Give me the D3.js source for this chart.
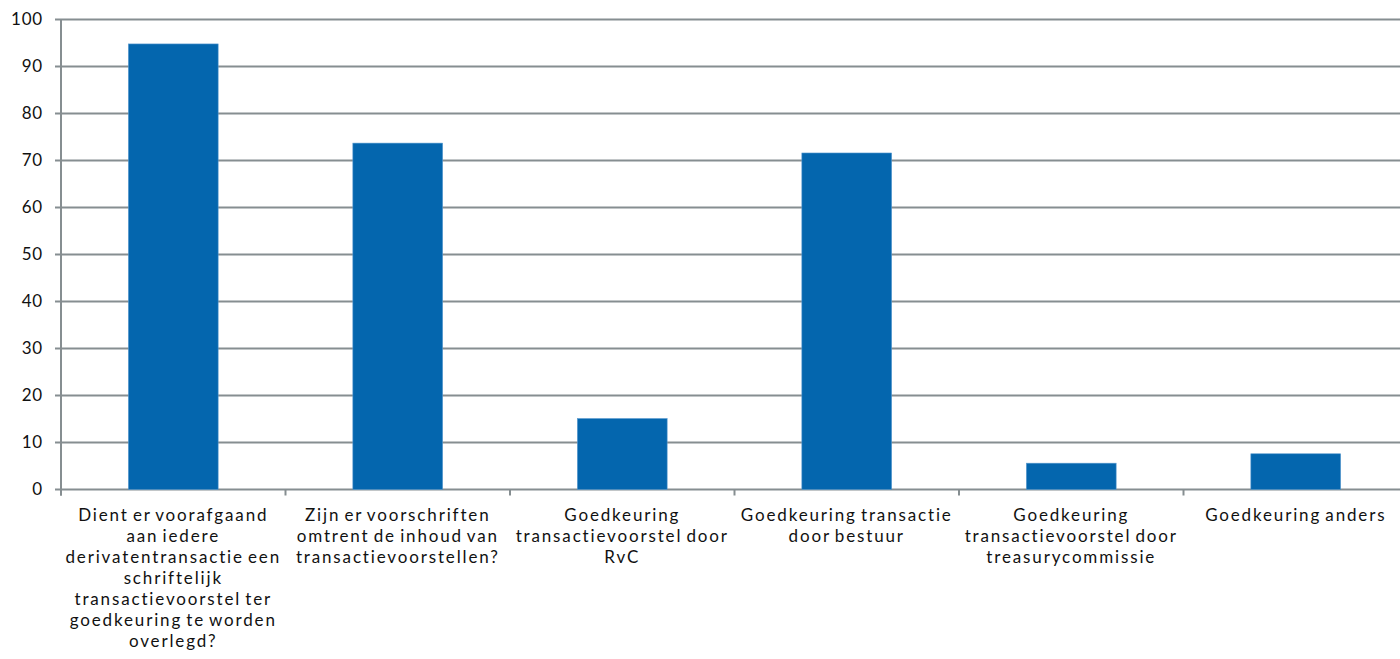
<!DOCTYPE html>
<html>
<head>
<meta charset="utf-8">
<script src="https://cdn.jsdelivr.net/npm/d3@7"></script>
<style>
  body { margin: 0; background: #fff; }
  text { font-family: Lato, 'Open Sans', sans-serif; fill: #111; }
</style>
</head>
<body>
<svg></svg>
<script>
var width = 1400;
var height = 659;

// categories, drawn as separate lines like in the original
var categories = [
    ['Dient er voorafgaand', 'aan iedere', 'derivatentransactie een', 'schriftelijk', 'transactievoorstel ter', 'goedkeuring te worden', 'overlegd?'],
    ['Zijn er voorschriften', 'omtrent de inhoud van', 'transactievoorstellen?'],
    ['Goedkeuring', 'transactievoorstel door', 'RvC'],
    ['Goedkeuring transactie', 'door bestuur'],
    ['Goedkeuring', 'transactievoorstel door', 'treasurycommissie'],
    ['Goedkeuring anders']
];
var values = [94.8, 73.7, 15.1, 71.6, 5.6, 7.6];
var yTicks = [0, 10, 20, 30, 40, 50, 60, 70, 80, 90, 100];

// plot runs a little past the right edge of the window, as in the original
var margin = {top: 19.5, right: -8, bottom: 169.5, left: 61};

var svg = d3.select('svg')
  .attr('width', width)
  .attr('height', height);

var x = d3.scaleBand()
  .domain(d3.range(categories.length))
  .range([margin.left, width - margin.right])
  .paddingInner(0.6)
  .paddingOuter(0.3);

var y = d3.scaleLinear()
  .domain([0, 100])
  .range([height - margin.bottom, margin.top]);

// gridlines
svg.append('g')
  .selectAll('line')
  .data(yTicks)
  .enter().append('line')
  .attr('x1', margin.left - 6)
  .attr('x2', width)
  .attr('y1', function (d) { return y(d); })
  .attr('y2', function (d) { return y(d); })
  .attr('stroke', '#868e91')
  .attr('stroke-width', 2);

// y labels
svg.append('g')
  .selectAll('text')
  .data(yTicks)
  .enter().append('text')
  .attr('x', margin.left - 18)
  .attr('y', function (d) { return y(d); })
  .attr('dy', '0.35em')
  .attr('text-anchor', 'end')
  .style('font-size', '17px')
  .style('letter-spacing', '0.8px')
  .text(function (d) { return d; });

// bars
svg.append('g')
  .selectAll('rect')
  .data(values)
  .enter().append('rect')
  .attr('x', function (d, i) { return x(i); })
  .attr('width', x.bandwidth())
  .attr('y', function (d) { return y(d); })
  .attr('height', function (d) { return y(0) - y(d); })
  .attr('fill', '#0466ae')
  .attr('stroke', '#5a9bd0')
  .attr('stroke-width', 0.6);

// y axis line
svg.append('line')
  .attr('x1', margin.left)
  .attr('x2', margin.left)
  .attr('y1', margin.top)
  .attr('y2', y(0) + 6)
  .attr('stroke', '#868e91')
  .attr('stroke-width', 2);

// category boundary ticks
var bounds = d3.range(categories.length + 1).map(function (i) {
    return margin.left + i * x.step();
});
svg.append('g')
  .selectAll('line')
  .data(bounds)
  .enter().append('line')
  .attr('x1', function (d) { return d; })
  .attr('x2', function (d) { return d; })
  .attr('y1', y(0))
  .attr('y2', y(0) + 6)
  .attr('stroke', '#868e91')
  .attr('stroke-width', 2);

// category labels
var labels = svg.append('g')
  .selectAll('text')
  .data(categories)
  .enter().append('text')
  .attr('text-anchor', 'middle')
  .style('font-size', '17px')
  .style('letter-spacing', '1.85px')
  .style('word-spacing', '-2px')
  .attr('transform', function (d, i) {
      return 'translate(' + (x(i) + x.bandwidth() / 2) + ',' + (y(0) + 31) + ')';
  });

labels.selectAll('tspan')
  .data(function (d) { return d; })
  .enter().append('tspan')
  .attr('x', 0)
  .attr('y', function (d, i) { return i * 21; })
  .text(function (d) { return d; });
</script>
</body>
</html>
